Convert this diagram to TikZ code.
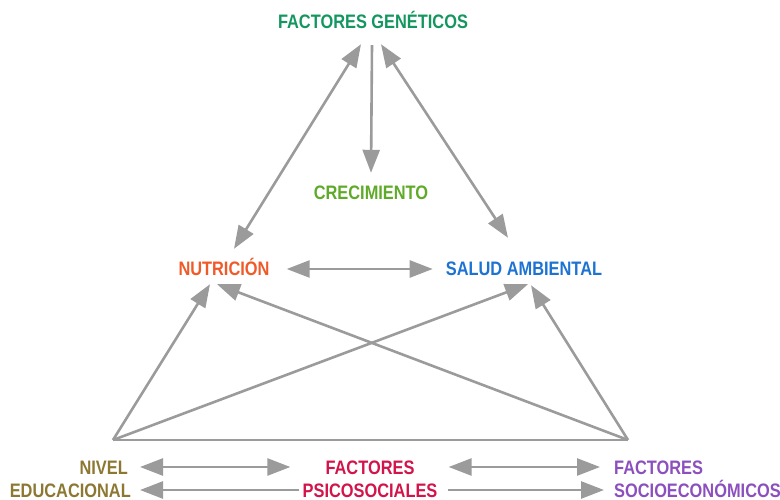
\documentclass[tikz,border=0pt]{standalone}
\usepackage{fontspec}
\setmainfont{Liberation Sans}[FakeStretch=0.84]
\usetikzlibrary{arrows.meta}
\definecolor{cgen}{RGB}{20,150,95}
\definecolor{ccre}{RGB}{95,170,40}
\definecolor{cnut}{RGB}{240,90,40}
\definecolor{csal}{RGB}{30,115,210}
\definecolor{cniv}{RGB}{140,120,50}
\definecolor{cpsi}{RGB}{210,20,75}
\definecolor{csoc}{RGB}{140,80,190}
\definecolor{cline}{RGB}{155,155,155}
\begin{document}
\begin{tikzpicture}[
  x=1pt, y=1pt,
  lbl/.style={inner sep=0pt, text height=14pt, text depth=0pt},
  arr/.style={draw=cline, line width=2.6pt, -{Triangle[length=23pt,width=17pt]}},
  arrb/.style={draw=cline, line width=2.6pt, {Triangle[length=23pt,width=17pt]}-{Triangle[length=23pt,width=17pt]}},
  every node/.style={font=\fontsize{19.5}{21}\selectfont\bfseries}
]
  \useasboundingbox (0,0) rectangle (780,-500);

  \node[lbl, text=cgen] (gen) at (373,-22) {FACTORES GENÉTICOS};
  \node[lbl, text=ccre] (cre) at (371,-193) {CRECIMIENTO};
  \node[lbl, text=cnut] (nut) at (224,-269) {NUTRICIÓN};
  \node[lbl, text=csal] (sal) at (524,-269) {SALUD AMBIENTAL};

  \node[lbl, text=cniv, anchor=east] (niv1) at (128,-467) {NIVEL};
  \node[lbl, text=cniv, anchor=east] (niv2) at (131,-490) {EDUCACIONAL};
  \node[lbl, text=cpsi] (psi1) at (370,-467) {FACTORES};
  \node[lbl, text=cpsi] (psi2) at (370,-490) {PSICOSOCIALES};
  \node[lbl, text=csoc, anchor=west] (soc1) at (614,-467) {FACTORES};
  \node[lbl, text=csoc, anchor=west] (soc2) at (614,-490) {SOCIOECONÓMICOS};

  \coordinate (nl) at (113,-440);
  \coordinate (nr) at (628,-440);

  % genetic factors
  \draw[arrb] ([xshift=-12pt,yshift=-15pt]gen.south) -- ([xshift=10pt,yshift=13pt]nut.north);
  \draw[arr] ([xshift=-1pt,yshift=-16pt]gen.south) -- ([yshift=13pt]cre.north);
  \draw[arrb] ([xshift=8pt,yshift=-15pt]gen.south) -- ([xshift=-16pt,yshift=24pt]sal.north);
  \draw[arrb] ([xshift=17pt]nut.east) -- ([xshift=-13pt]sal.west);

  % base of the triangle
  \draw[draw=cline, line width=2.6pt] (nl) -- (nr);
  \draw[arr] (nl) -- ([xshift=-14pt,yshift=-8pt]nut.south);
  \draw[arr] (nr) -- ([xshift=-7pt,yshift=-8pt]nut.south);
  \draw[arr] (nl) -- ([xshift=4pt,yshift=-8pt]sal.south);
  \draw[arr] (nr) -- ([xshift=7pt,yshift=-9pt]sal.south);

  % bottom row
  \draw[arrb] ([xshift=12pt]niv1.east) -- ([xshift=-35pt]psi1.west);
  \draw[arrb] ([xshift=34pt]psi1.east) -- ([xshift=-14pt]soc1.west);
  \draw[arr] ([xshift=-3pt]psi2.west) -- ([xshift=9pt]niv2.east);
  \draw[arr] ([xshift=10pt]psi2.east) -- ([xshift=-10pt]soc2.west);
\end{tikzpicture}
\end{document}
